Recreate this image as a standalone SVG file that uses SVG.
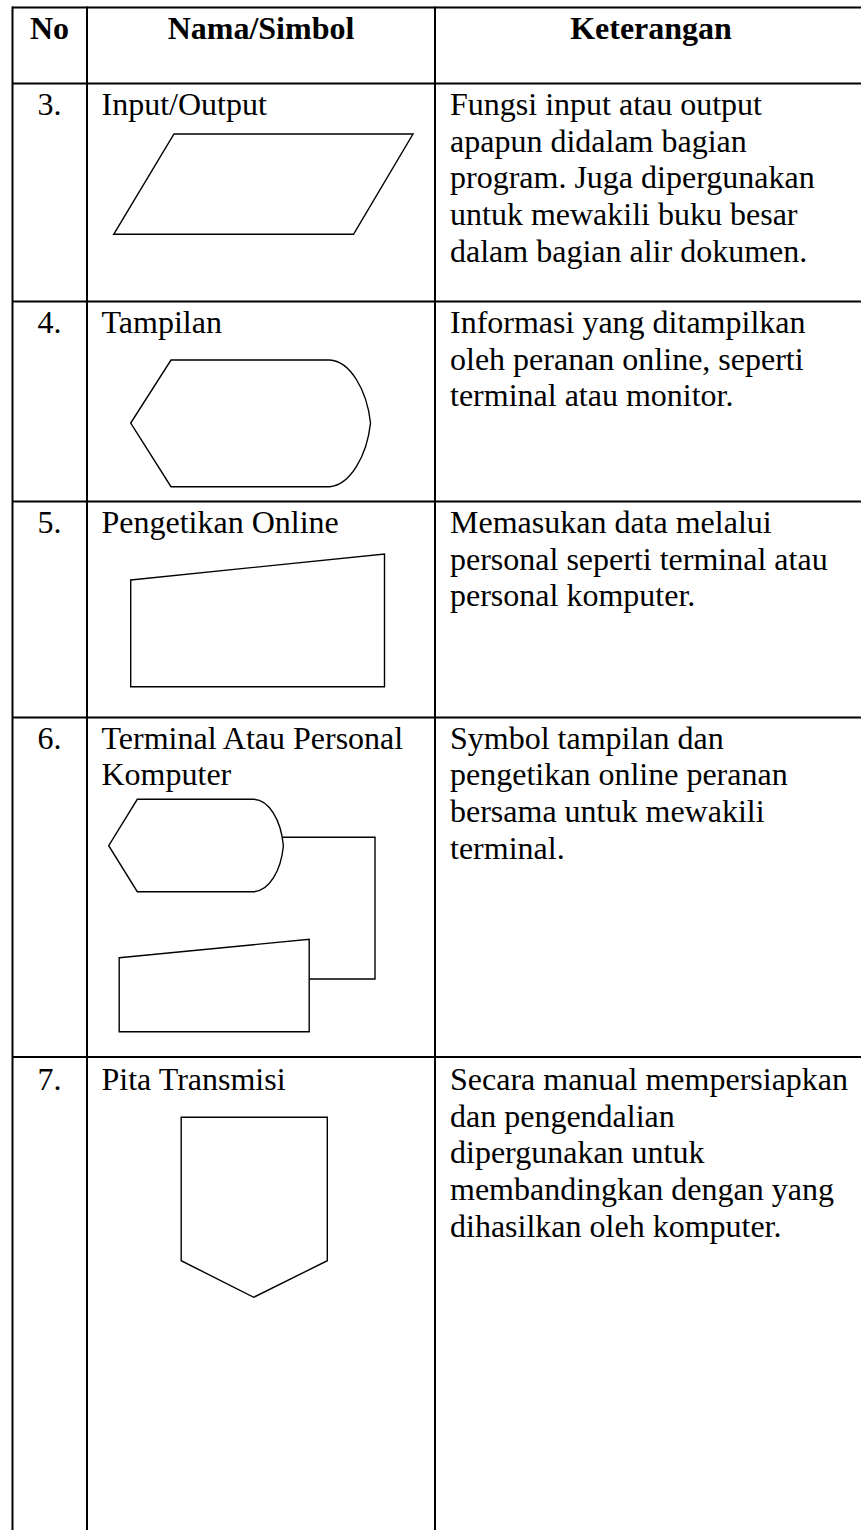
<svg xmlns="http://www.w3.org/2000/svg" width="861" height="1530" viewBox="0 0 861 1530">
<style>
.tl{stroke:#000;stroke-width:2;fill:none}
.sh{stroke:#000;stroke-width:1.4;fill:none;stroke-linejoin:miter}
.t{font-family:"Liberation Serif","Times New Roman",serif;font-size:32px;fill:#000}
.h{font-weight:bold;text-anchor:middle}
.c{text-anchor:middle}
</style>
<rect x="0" y="0" width="861" height="1530" fill="#fff"/>
<g id="table-grid">
<line class="tl" x1="12" y1="7.5" x2="861" y2="7.5"/>
<line class="tl" x1="12" y1="83.5" x2="861" y2="83.5"/>
<line class="tl" x1="12" y1="301.5" x2="861" y2="301.5"/>
<line class="tl" x1="12" y1="501.5" x2="861" y2="501.5"/>
<line class="tl" x1="12" y1="717.5" x2="861" y2="717.5"/>
<line class="tl" x1="12" y1="1057" x2="861" y2="1057"/>
<line class="tl" x1="12.5" y1="6.5" x2="12.5" y2="1530"/>
<line class="tl" x1="87" y1="6.5" x2="87" y2="1530"/>
<line class="tl" x1="435" y1="6.5" x2="435" y2="1530"/>
</g>
<g id="header">
<text class="t h" x="49.5" y="39">No</text>
<text class="t h" x="261" y="39">Nama/Simbol</text>
<text class="t h" x="651" y="39">Keterangan</text>
</g>
<g id="row3-input-output">
<text class="t c" x="49.5" y="115">3.</text>
<text class="t" x="101.5" y="115">Input/Output</text>
<polygon class="sh" points="174,134 413,134 353.5,234.3 113.7,234.3"/>
<text class="t" x="450" y="115">Fungsi input atau output</text>
<text class="t" x="450" y="151.7">apapun didalam bagian</text>
<text class="t" x="450" y="188.4">program. Juga dipergunakan</text>
<text class="t" x="450" y="225.1">untuk mewakili buku besar</text>
<text class="t" x="450" y="261.8">dalam bagian alir dokumen.</text>
</g>
<g id="row4-tampilan">
<text class="t c" x="49.5" y="333">4.</text>
<text class="t" x="101.5" y="333">Tampilan</text>
<path class="sh" d="M171,360 L329.5,360 C350,361 367,390 370.5,423 C367,456 350,485 329.5,486.7 L171,486.7 L130.7,423 Z"/>
<text class="t" x="450" y="333">Informasi yang ditampilkan</text>
<text class="t" x="450" y="369.7">oleh peranan online, seperti</text>
<text class="t" x="450" y="406.4">terminal atau monitor.</text>
</g>
<g id="row5-pengetikan-online">
<text class="t c" x="49.5" y="533">5.</text>
<text class="t" x="101.5" y="533">Pengetikan Online</text>
<polygon class="sh" points="130.7,580 384.5,554 384.5,686.7 130.7,686.7"/>
<text class="t" x="450" y="533">Memasukan data melalui</text>
<text class="t" x="450" y="569.7">personal seperti terminal atau</text>
<text class="t" x="450" y="606.4">personal komputer.</text>
</g>
<g id="row6-terminal">
<text class="t c" x="49.5" y="748.5">6.</text>
<text class="t" x="101.5" y="748.5">Terminal Atau Personal</text>
<text class="t" x="101.5" y="785.2">Komputer</text>
<text class="t" x="450" y="748.5">Symbol tampilan dan</text>
<text class="t" x="450" y="785.2">pengetikan online peranan</text>
<text class="t" x="450" y="821.9">bersama untuk mewakili</text>
<text class="t" x="450" y="858.6">terminal.</text>
</g>
<g id="row6-display">
<path class="sh" d="M137.3,799.3 L253.7,799.3 C269,800 281,820 283.4,845.7 C281,871 269,891 253.7,891.7 L137.3,891.7 L108.7,845.7 Z"/>
</g>
<g id="row6-online">
<polygon class="sh" points="119.2,957.7 309.2,939.3 309.2,1031.7 119.2,1031.7"/>
</g>
<g id="connectors">
<polyline class="sh" points="283,837.3 375,837.3 375,979 309.2,979"/>
</g>
<g id="row7-pita-transmisi">
<text class="t c" x="49.5" y="1090">7.</text>
<text class="t" x="101.5" y="1090">Pita Transmisi</text>
<polygon class="sh" points="181.2,1117.3 327.3,1117.3 327.3,1260.7 253.7,1297.3 181.2,1260.7"/>
<text class="t" x="450" y="1090">Secara manual mempersiapkan</text>
<text class="t" x="450" y="1126.7">dan pengendalian</text>
<text class="t" x="450" y="1163.4">dipergunakan untuk</text>
<text class="t" x="450" y="1200.1">membandingkan dengan yang</text>
<text class="t" x="450" y="1236.8">dihasilkan oleh komputer.</text>
</g>
</svg>
